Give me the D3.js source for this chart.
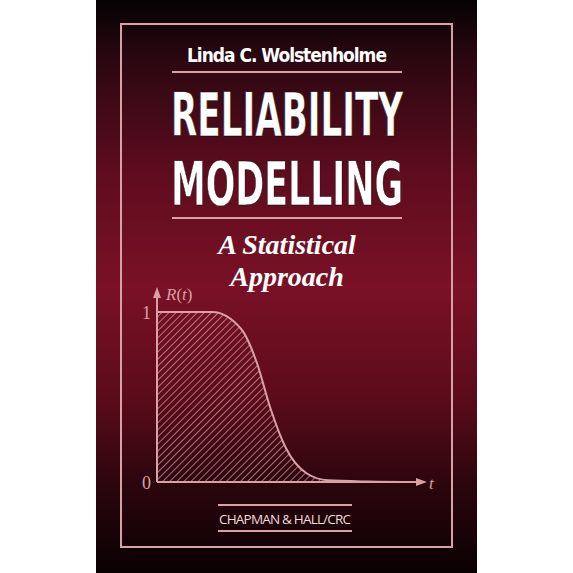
<!DOCTYPE html><html><head><meta charset="utf-8">
<script src="https://cdn.jsdelivr.net/npm/d3@7"></script>
<style>body{margin:0;background:#fff}</style></head><body>
<script>
const tValues = [0, 1, 2.1, 3.2, 3.8, 4.3, 4.9, 5.7, 6.5, 8, 10];
const rValues = [1, 1, 1, 0.9, 0.70, 0.44, 0.2, 0.05, 0.01, 0.003, 0];
const yTicks = [0, 1];
const author = "Linda C. Wolstenholme";
const titleLines = ["RELIABILITY", "MODELLING"];
const subtitleLines = ["A Statistical", "Approach"];
const publisher = "CHAPMAN & HALL/CRC";

const svg = d3.select("body").append("svg").attr("width",573).attr("height",573);
const defs = svg.append("defs");
const g = defs.append("linearGradient").attr("id","bg").attr("x1",0).attr("y1",0).attr("x2",0).attr("y2",1);
[[0,"#050203"],[0.1,"#2a0710"],[0.3,"#5e0c1e"],[0.5,"#7a1126"],[0.7,"#5a0b1a"],[0.85,"#2a050c"],[1,"#0a0103"]]
 .forEach(([o,c])=>g.append("stop").attr("offset",o).attr("stop-color",c));
const pat = defs.append("pattern").attr("id","hatch").attr("patternUnits","userSpaceOnUse")
 .attr("width",5).attr("height",5).attr("patternTransform","rotate(45)");
pat.append("line").attr("x1",0).attr("y1",0).attr("x2",0).attr("y2",5).attr("stroke","#efb7bd").attr("stroke-width",1.2);

svg.append("rect").attr("x",96).attr("y",0).attr("width",381).attr("height",573).attr("fill","url(#bg)");
const pink="#d9a0a6";
svg.append("rect").attr("x",121).attr("y",24).attr("width",331).attr("height",523).attr("fill","none").attr("stroke",pink).attr("stroke-width",2);

svg.append("text").attr("x",287).attr("y",62).attr("text-anchor","middle").attr("fill","#fff")
 .attr("font-family","Liberation Sans Narrow, DejaVu Sans Condensed, sans-serif").attr("font-weight","bold")
 .attr("font-size",19).attr("textLength",200).text(author);
[[72,172,402],[218,172,402],[505,218,352],[531,218,352]].forEach(([y,a,b])=>
 svg.append("line").attr("x1",a).attr("x2",b).attr("y1",y).attr("y2",y).attr("stroke",pink).attr("stroke-width",2));
titleLines.forEach((t,i)=>svg.append("text").attr("x",287).attr("y",136+i*69).attr("text-anchor","middle")
 .attr("fill","#fff").attr("stroke","#000").attr("stroke-width",0.5)
 .attr("font-family","DejaVu Sans Condensed, Liberation Sans Narrow, sans-serif").attr("font-weight","bold")
 .attr("font-size",60).attr("textLength",232).attr("lengthAdjust","spacingAndGlyphs").text(t));
subtitleLines.forEach((t,i)=>svg.append("text").attr("x",287).attr("y",254+i*32).attr("text-anchor","middle")
 .attr("fill","#fff").attr("font-family","Liberation Serif, serif").attr("font-weight","bold").attr("font-style","italic")
 .attr("font-size",28).text(t));
svg.append("text").attr("x",285).attr("y",524).attr("text-anchor","middle").attr("fill","#f3d8db")
 .attr("font-family","Open Sans, sans-serif").attr("font-size",13.5).attr("textLength",132).text(publisher);

const x = d3.scaleLinear().domain([0,10]).range([157,420]);
const y = d3.scaleLinear().domain([0,1]).range([482,312]);
const area = d3.area().x((d,i)=>x(tValues[i])).y0(y(0)).y1(d=>y(d)).curve(d3.curveMonotoneX);
const line = d3.line().x((d,i)=>x(tValues[i])).y(d=>y(d)).curve(d3.curveMonotoneX);
svg.append("path").attr("d",area(rValues)).attr("fill","url(#hatch)");
svg.append("path").attr("d",line(rValues)).attr("fill","none").attr("stroke",pink).attr("stroke-width",2);
svg.append("line").attr("x1",x(0)).attr("x2",x(0)).attr("y1",y(0)).attr("y2",296).attr("stroke",pink).attr("stroke-width",2);
svg.append("line").attr("x1",x(0)).attr("x2",418).attr("y1",y(0)).attr("y2",y(0)).attr("stroke",pink).attr("stroke-width",2);
svg.append("path").attr("d",`M${x(0)-4},298 L${x(0)},287 L${x(0)+4},298Z`).attr("fill",pink);
svg.append("path").attr("d",`M416,${y(0)-4} L427,${y(0)} L416,${y(0)+4}Z`).attr("fill",pink);
yTicks.forEach(v=>svg.append("text").attr("x",151).attr("y",y(v)+7).attr("text-anchor","end").attr("fill",pink)
 .attr("font-family","Liberation Serif, serif").attr("font-size",18).text(v));
const lab = svg.append("text").attr("x",166).attr("y",300).attr("fill",pink).attr("font-family","Liberation Serif, serif").attr("font-size",17);
lab.append("tspan").attr("font-style","italic").text("R");lab.append("tspan").text("(");
lab.append("tspan").attr("font-style","italic").text("t");lab.append("tspan").text(")");
svg.append("text").attr("x",429).attr("y",489).attr("fill",pink).attr("font-family","Liberation Serif, serif")
 .attr("font-style","italic").attr("font-size",17).text("t");
</script></body></html>
